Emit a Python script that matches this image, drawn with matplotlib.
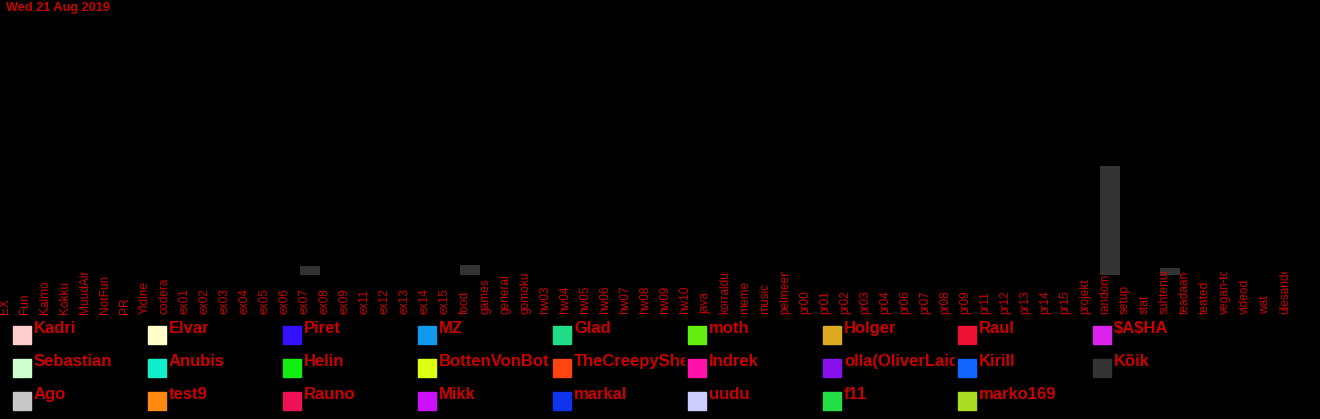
import matplotlib
matplotlib.use("Agg")
import matplotlib.pyplot as plt
from matplotlib.patches import Rectangle
from matplotlib.transforms import blended_transform_factory

plt.rcParams['font.family'] = ['Liberation Sans', 'DejaVu Sans']

# kanalid (x-telg)
channels = ["EX", "Fun", "Kalmo", "Kokku", "MuudAined", "NotFun", "PR", "Yldine", "codera",
            "ex01", "ex02", "ex03", "ex04", "ex05", "ex06", "ex07", "ex08", "ex09",
            "ex11", "ex12", "ex13", "ex14", "ex15", "food", "games", "general", "gomoku",
            "hw03", "hw04", "hw05", "hw06", "hw07", "hw08", "hw09", "hw10",
            "java", "korraldus", "meme", "music", "pelmeenid",
            "pr00", "pr01", "pr02", "pr03", "pr04", "pr06", "pr07", "pr08", "pr09",
            "pr11", "pr12", "pr13", "pr14", "pr15", "projekt", "random", "setup", "stat",
            "suhtenurk", "teadaanded", "teated", "vegan-toit", "videod", "wat", "ülesanded"]

# sõnumite arv (Kõik)
counts = {"ex07": 9.5, "food": 10.5, "random": 109.5, "suhtenurk": 7.5}
values = [counts.get(c, 0) for c in channels]

# kasutajad (legend), veergude kaupa
users = ["Kadri", "Sebastian", "Ago",
         "Elvar", "Anubis", "test9",
         "Piret", "Helin", "Rauno",
         "MZ", "BottenVonBot", "Mikk",
         "Glad", "TheCreepySheep", "markal",
         "moth", "Indrek", "uudu",
         "Holger", "olla(OliverLaid)", "f11",
         "Raul", "Kirill", "marko169",
         "$A$HA", "Kõik"]
user_colors = ["#ffcccc", "#ccffcc", "#c8c8c8",
               "#ffffcc", "#11eecc", "#ff8811",
               "#3311ff", "#11ee11", "#ee1155",
               "#1199ee", "#ddff11", "#cc11ff",
               "#22dd88", "#ff4411", "#1133ee",
               "#66ee11", "#ff11aa", "#ccccff",
               "#ddaa22", "#8811ee", "#22dd44",
               "#ee1133", "#1166ff", "#aadd22",
               "#dd22ee", "#333333"]

red = "#cc0000"
W, H = 1320, 419
fig = plt.figure(figsize=(W / 100, H / 100), dpi=100, facecolor="black")

base_px = 275
ax = fig.add_axes([0, 1 - base_px / H, 1, base_px / H])
ax.set_facecolor("black")
ax.bar(range(len(channels)), values, width=1.0, color="#333333")
ax.set_xlim(-0.5, 65.5)
ax.set_ylim(0, 275)
ax.axis("off")

# kanalite nimed, lõigatud telje alla
clip = Rectangle((0, 0), 1, 1 - 272 / H, transform=fig.transFigure)
trans = blended_transform_factory(ax.transData, fig.transFigure)
for i, c in enumerate(channels):
    t = ax.text(i - 0.25, 1 - 314 / H, c, rotation=90, ha="center", va="bottom",
                color=red, fontsize=8.6, transform=trans)
    t.set_clip_path(clip)
    t.set_clip_on(True)

# pealkiri
fig.text(6 / W, 1 - 11 / H, "Wed 21 Aug 2019", color=red, fontsize=9.2,
         fontweight="bold", va="baseline", ha="left")

# legend
for k, (u, col) in enumerate(zip(users, user_colors)):
    cx = 13 + 135 * (k // 3)
    cy = 326 + 33 * (k % 3)
    fig.patches.append(Rectangle((cx / W, 1 - (cy + 18) / H), 18 / W, 18 / H,
                                 transform=fig.transFigure, color=col, zorder=3))
    t = fig.text((cx + 21) / W, 1 - (cy + 7) / H, u, color=red, fontsize=12,
                 fontweight="bold", va="baseline", ha="left", zorder=2,
                 parse_math=False)
    r = Rectangle(((cx + 21) / W, 0), (135 - 24) / W, 1, transform=fig.transFigure)
    t.set_clip_path(r)
    t.set_clip_on(True)

fig.savefig("out.png", dpi=100, facecolor="black")
